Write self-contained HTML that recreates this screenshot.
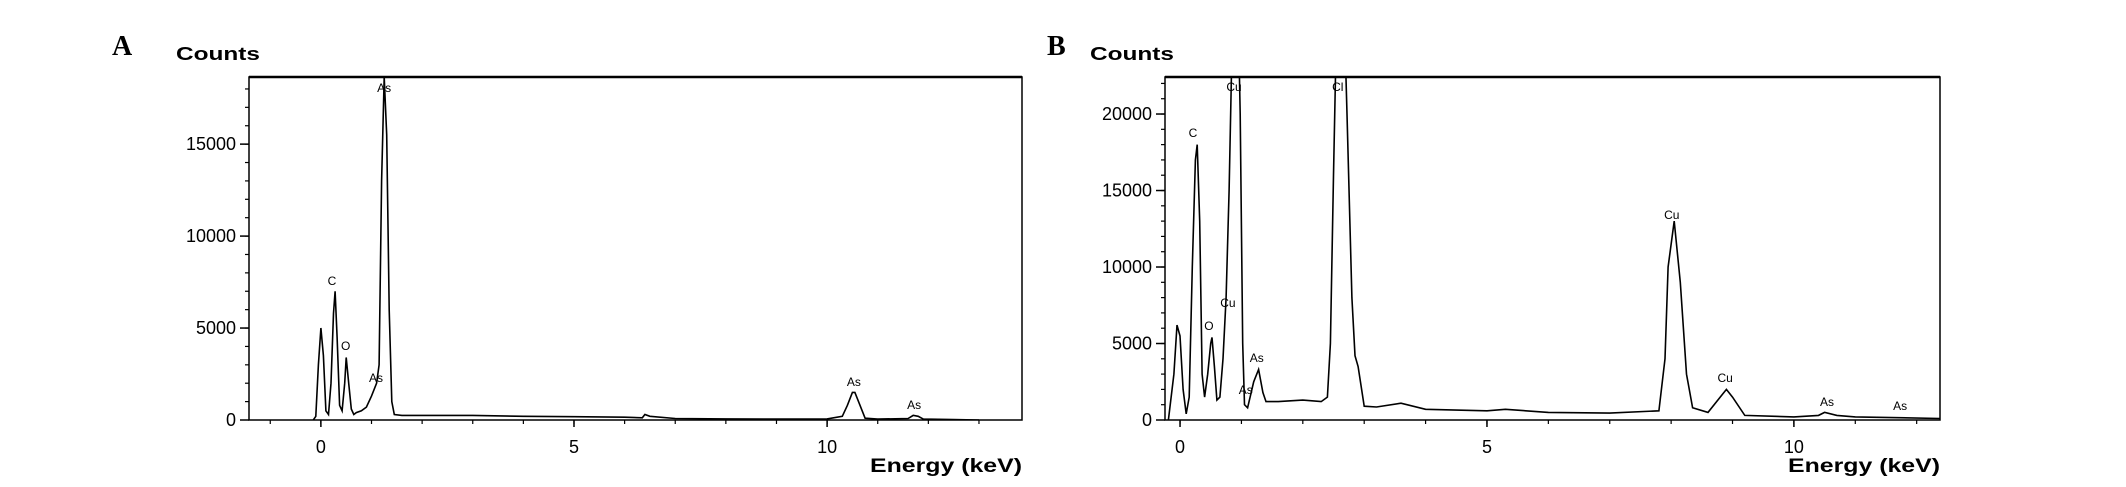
<!DOCTYPE html>
<html><head><meta charset="utf-8"><style>
html,body{margin:0;padding:0;background:#fff;}
svg{display:block;font-family:"Liberation Sans",Arial,sans-serif;}
</style></head><body>
<svg id="fig" width="2126" height="487" viewBox="0 0 2126 487" xmlns="http://www.w3.org/2000/svg"></svg>
<script>
// Panel A data
const energyA = [-0.15,-0.1,-0.05,0,0.05,0.1,0.15,0.2,0.25,0.28,0.32,0.37,0.42,0.47,0.5,0.55,0.6,0.65,0.7,0.8,0.9,1.0,1.1,1.15,1.2,1.25,1.3,1.35,1.4,1.45,1.6,2,3,4,5,6,6.35,6.4,6.5,7,8,9,10,10.3,10.4,10.5,10.55,10.65,10.75,11,11.6,11.7,11.8,11.9,12.5,13];
const countsA = [0,200,3000,5000,3500,500,300,2000,5800,7000,4500,800,500,2000,3400,2000,600,300,400,500,700,1300,2000,3000,13000,18650,15500,6000,1000,300,250,250,250,200,180,150,120,300,200,80,60,50,60,200,800,1500,1500,800,100,50,80,250,200,50,20,0];
const labelTextA = ["As","C","O","As","As","As"];
const labelEnergyA = [1.25,0.22,0.49,1.09,10.53,11.72];
const labelCountsA = [18040,7550,4020,2280,2070,815];
const yTicksA = [0,5000,10000,15000];
const xTicksA = [0,5,10];
// Panel B data
const energyB = [-0.19,-0.1,-0.05,0,0.05,0.1,0.15,0.2,0.25,0.28,0.32,0.36,0.4,0.45,0.5,0.52,0.56,0.6,0.65,0.7,0.75,0.8,0.85,0.88,0.93,0.98,1.02,1.05,1.1,1.2,1.28,1.35,1.4,1.6,2.0,2.3,2.4,2.45,2.5,2.57,2.65,2.72,2.8,2.85,2.9,3.0,3.2,3.6,4.0,5.0,5.3,6.0,7.0,7.8,7.9,7.95,8.05,8.15,8.25,8.35,8.6,8.8,8.9,9.0,9.2,10,10.4,10.5,10.7,11,12.38];
const countsB = [0,3000,6200,5500,2000,400,1500,10000,17000,18000,13000,3000,1500,3000,5000,5400,3500,1300,1500,4000,8000,15000,25000,30000,30000,20000,5000,1000,800,2500,3300,1800,1200,1200,1300,1200,1500,5000,16000,30000,30000,20000,8000,4200,3500,900,850,1100,700,600,700,500,450,600,4000,10000,13000,9000,3000,800,500,1500,2000,1500,300,200,300,500,300,200,100];
const labelTextB = ["Cu","Cl","C","Cu","O","As","As","Cu","Cu","As","As"];
const labelEnergyB = [0.88,2.57,0.21,0.78,0.47,1.25,1.07,8.01,8.88,10.54,11.73];
const labelCountsB = [21760,21760,18760,7650,6140,4050,1960,13400,2750,1180,920];
const yTicksB = [0,5000,10000,15000,20000];
const xTicksB = [0,5,10];

const NS="http://www.w3.org/2000/svg";
const svg=document.getElementById('fig');
function mk(tag,attrs,parent){const e=document.createElementNS(NS,tag);for(const k in attrs)e.setAttribute(k,attrs[k]);(parent||svg).appendChild(e);return e;}

function panel(id,letter,letterX,L,R,T,B,xmin,xmax,ymax,energy,counts,yTicks,xTicks,lt,le,lc,countsX){
  const g=mk('g',{});
  
  
  const sx=v=>L+(v-xmin)/(xmax-xmin)*(R-L);
  const sy=v=>B-v/ymax*(B-T);
  const clip=mk('clipPath',{id:'clip'+id},g);
  mk('rect',{x:L,y:T,width:R-L,height:B-T},clip);
  // panel letter
  const pl=mk('text',{x:letterX,y:55,'font-family':'"Liberation Serif",serif','font-weight':'bold','font-size':28},g);
  pl.textContent=letter;
  
  
  const ct=mk('text',{x:countsX,y:60,'font-size':18,'font-weight':'bold',textLength:84,lengthAdjust:'spacingAndGlyphs'},g);
  ct.textContent='Counts';
  
  
  const et=mk('text',{x:R,y:472,'font-size':19,'font-weight':'bold','text-anchor':'end',textLength:152,lengthAdjust:'spacingAndGlyphs'},g);
  et.textContent='Energy (keV)';
  
  
  // minor y ticks
  for(let v=1000;v<ymax;v+=1000){mk('line',{x1:L-4,x2:L,y1:sy(v),y2:sy(v),stroke:'#000','stroke-width':1.2},g);}
  yTicks.forEach(v=>{
    mk('line',{x1:L-9,x2:L,y1:sy(v),y2:sy(v),stroke:'#000','stroke-width':1.5},g);
    const t=mk('text',{x:L-13,y:sy(v)+6,'font-size':18,'text-anchor':'end'},g);
    t.textContent=String(v);
    
    
  });
  for(let v=Math.ceil(xmin);v<=xmax;v++){mk('line',{x1:sx(v),x2:sx(v),y1:B,y2:B+4,stroke:'#000','stroke-width':1.2},g);}
  xTicks.forEach(v=>{
    mk('line',{x1:sx(v),x2:sx(v),y1:B,y2:B+7,stroke:'#000','stroke-width':1.5},g);
    const t=mk('text',{x:sx(v),y:453,'font-size':18,'text-anchor':'middle'},g);
    t.textContent=String(v);
    
    
  });
  const pts=energy.map((e,i)=>sx(e).toFixed(1)+','+sy(counts[i]).toFixed(1)).join(' ');
  const line=mk('polyline',{points:pts,fill:'none',stroke:'#000','stroke-width':1.6,'clip-path':'url(#clip'+id+')'},g);
  
  
  lt.forEach((s,i)=>{
    const t=mk('text',{x:sx(le[i]),y:sy(lc[i])+4,'font-size':12,'text-anchor':'middle'},g);
    t.textContent=s;
    
    
  });
  const box=mk('rect',{x:L,y:T,width:R-L,height:B-T,fill:'none',stroke:'#000','stroke-width':1.5},g);
  
  
  mk('line',{x1:L,x2:R,y1:T,y2:T,stroke:'#000','stroke-width':2.5},g);
}
panel('a','A',112,249,1022,77,420,-1.42,13.85,18650,energyA,countsA,yTicksA,xTicksA,labelTextA,labelEnergyA,labelCountsA,176);
panel('b','B',1047,1165,1940,77,420,-0.245,12.38,22420,energyB,countsB,yTicksB,xTicksB,labelTextB,labelEnergyB,labelCountsB,1090);
</script>
</body></html>
